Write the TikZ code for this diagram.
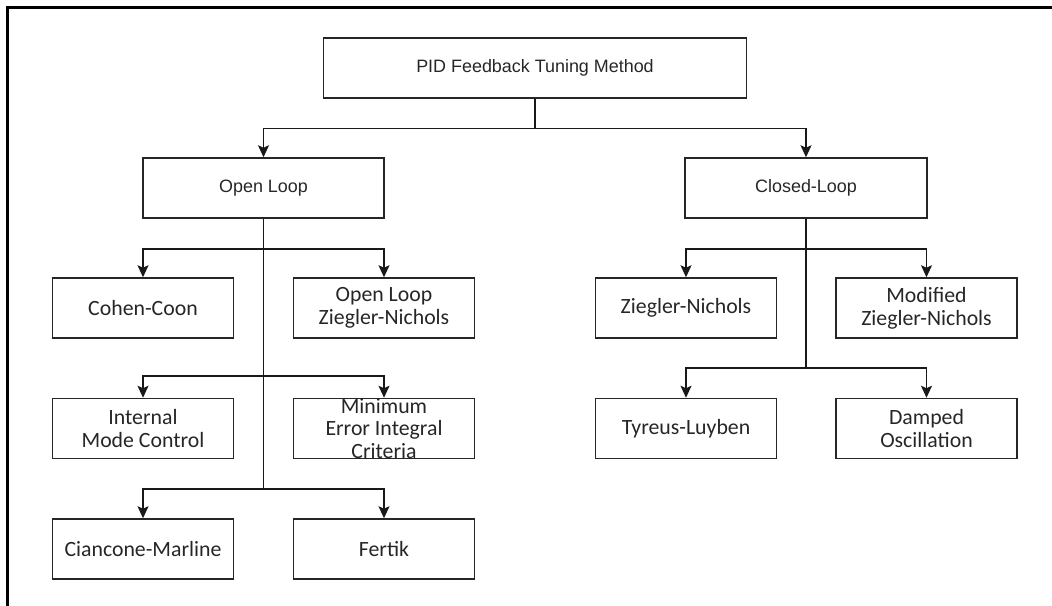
\documentclass[tikz,border=0pt]{standalone}
\usepackage{fontspec}
\newfontfamily\headfont{Liberation Sans}
\newfontfamily\leaffont{Carlito}
\usetikzlibrary{arrows.meta}
% column and row positions (in pixels of the layout)
\def\colOA{143}
\def\colOB{384}
\def\colCA{686}
\def\colCB{926.5}
\def\rowA{308}
\def\rowB{428.5}
\def\rowC{549}

\begin{document}
\begin{tikzpicture}[
		x=0.2mm,y=-0.2mm,
		head/.style={draw=black!85,line width=0.85pt,minimum height=12mm,inner sep=2pt,
			text=black!85,font=\headfont\fontsize{10.2}{12}\selectfont},
		leaf/.style={draw=black!85,line width=0.85pt,minimum width=36.2mm,minimum height=12mm,
			inner sep=1pt,align=center,text=black!85,font=\leaffont\fontsize{12.4}{12.9}\selectfont},
		leaftxt/.style={align=center,inner sep=0pt,text=black!85,font=\leaffont\fontsize{12.4}{12.9}\selectfont},
		w/.style={-{Stealth[length=2.4mm,width=2.2mm,inset=0.5mm]},line width=0.85pt,draw=black!90},
		p/.style={line width=0.85pt,draw=black!90},
		frm/.style={line width=1.2pt}]
		\useasboundingbox (0,0) rectangle (1052,606);
		
		% ============ frame (top and left edge only) ============
		\draw[frm] (7.5,606) -- (7.5,7.5) -- (1052,7.5);
		
		% ============ top levels ============
		\node[head,minimum width=84.6mm] (pid) at (535,68) {PID Feedback Tuning Method};
		\node[head,minimum width=48.2mm] (ol) at (263.5,188) {Open Loop};
		\node[head,minimum width=48.4mm] (cl) at (806,188) {Closed-Loop};
		\draw[w] (pid.south) -- ++(0,30) -| (ol.north);
		\draw[w] (pid.south) -- ++(0,30) -| (cl.north);
		
		% ============ open loop methods ============
		\node[leaf] (cc) at (\colOA,\rowA) {Cohen-Coon};
		\node[leaf] (olzn) at (\colOB,\rowA) {Open Loop\\Ziegler-Nichols};
		\node[leaf] (imc) at (\colOA,\rowB) {Internal\\Mode Control};
		\node[leaf,label={[leaftxt]center:{Minimum\\Error Integral\\Criteria}}] (mec) at (\colOB,\rowB) {};
		\node[leaf] (cm) at (\colOA,\rowC) {Ciancone-Marline};
		\node[leaf] (fer) at (\colOB,\rowC) {Fertik};
		\coordinate (oj1) at (ol.south |- 0,249);
		\coordinate (oj2) at (ol.south |- 0,376);
		\coordinate (oj3) at (ol.south |- 0,489);
		\draw[p] (ol.south) -- (oj3);
		\draw[w] (oj1) -| (cc.north);  \draw[w] (oj1) -| (olzn.north);
		\draw[w] (oj2) -| (imc.north); \draw[w] (oj2) -| (mec.north);
		\draw[w] (oj3) -| (cm.north);  \draw[w] (oj3) -| (fer.north);
		
		% ============ closed loop methods ============
		\node[leaf] (zn) at (\colCA,\rowA) {Ziegler-Nichols};
		\node[leaf] (mzn) at (\colCB,\rowA) {Modified\\Ziegler-Nichols};
		\node[leaf] (tl) at (\colCA,\rowB) {Tyreus-Luyben};
		\node[leaf] (dmp) at (\colCB,\rowB) {Damped\\Oscillation};
		\coordinate (cj1) at (cl.south |- 0,249);
		\coordinate (cj2) at (cl.south |- 0,368);
		\draw[p] (cl.south) -- (cj2);
		\draw[w] (cj1) -| (zn.north);  \draw[w] (cj1) -| (mzn.north);
		\draw[w] (cj2) -| (tl.north);  \draw[w] (cj2) -| (dmp.north);
		
	\end{tikzpicture}
\end{document}
